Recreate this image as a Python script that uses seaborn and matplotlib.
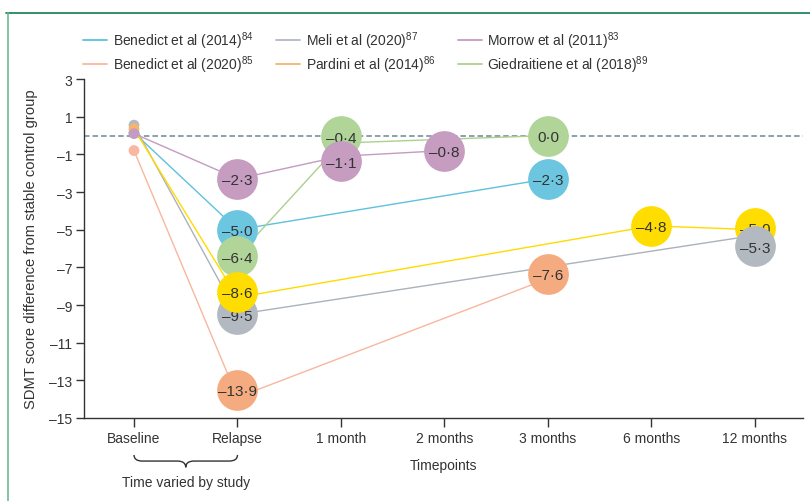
import matplotlib
matplotlib.use("Agg")
import matplotlib.pyplot as plt
import matplotlib.transforms as mtransforms
from matplotlib.lines import Line2D
from matplotlib.path import Path
from matplotlib.patches import PathPatch
import pandas as pd
import seaborn as sns

# ---- data -------------------------------------------------------------
timepoints = ["Baseline", "Relapse", "1 month", "2 months", "3 months",
              "6 months", "12 months"]

studies = ["Benedict et al (2014)", "Meli et al (2020)", "Morrow et al (2011)",
           "Benedict et al (2020)", "Pardini et al (2014)",
           "Giedraitiene et al (2018)"]
refs = ["84", "87", "83", "85", "86", "89"]

benedict2014_times = ["Baseline", "Relapse", "3 months"]
benedict2014_values = [0.15, -5.0, -2.3]
meli_times = ["Baseline", "Relapse", "12 months"]
meli_values = [0.55, -9.5, -5.3]
morrow_times = ["Baseline", "Relapse", "1 month", "2 months"]
morrow_values = [0.1, -2.3, -1.1, -0.8]
benedict2020_times = ["Baseline", "Relapse", "3 months"]
benedict2020_values = [-0.8, -13.9, -7.6]
pardini_times = ["Baseline", "Relapse", "6 months", "12 months"]
pardini_values = [0.35, -8.6, -4.8, -5.0]
giedraitiene_times = ["Relapse", "1 month", "3 months"]
giedraitiene_values = [-6.4, -0.4, 0.0]

series = {
    "Benedict et al (2014)": (benedict2014_times, benedict2014_values),
    "Meli et al (2020)": (meli_times, meli_values),
    "Morrow et al (2011)": (morrow_times, morrow_values),
    "Benedict et al (2020)": (benedict2020_times, benedict2020_values),
    "Pardini et al (2014)": (pardini_times, pardini_values),
    "Giedraitiene et al (2018)": (giedraitiene_times, giedraitiene_values),
}

# ---- colours ------------------------------------------------------------
line_colors = {
    "Benedict et al (2014)": "#5ec1dd",
    "Meli et al (2020)": "#aab2ba",
    "Morrow et al (2011)": "#c49bc1",
    "Benedict et al (2020)": "#f8b79e",
    "Pardini et al (2014)": "#ffdb00",
    "Giedraitiene et al (2018)": "#abd18e",
}
circle_colors = {
    "Benedict et al (2014)": "#6cc6df",
    "Meli et al (2020)": "#b3b9c0",
    "Morrow et al (2011)": "#c69cc0",
    "Benedict et al (2020)": "#f5ab80",
    "Pardini et al (2014)": "#ffdd00",
    "Giedraitiene et al (2018)": "#b1d599",
}
dot_colors = dict(line_colors)
dot_colors["Pardini et al (2014)"] = "#f8b46a"
dot_colors["Meli et al (2020)"] = "#b3b9c0"
legend_colors = dict(dot_colors)

# ---- long table -----------------------------------------------------------
rows = []
for study in studies:
    times, values = series[study]
    for t, v in zip(times, values):
        rows.append({"study": study, "time": t,
                     "pos": timepoints.index(t), "value": v})
df = pd.DataFrame(rows)

# ---- style ----------------------------------------------------------------
sns.set_style("ticks")
plt.rcParams["font.family"] = ["Liberation Sans", "DejaVu Sans"]
plt.rcParams["mathtext.fontset"] = "custom"
plt.rcParams["mathtext.rm"] = "Liberation Sans"
ink = "#333333"

fig = plt.figure(figsize=(8.1, 5.02), dpi=100)
ax = fig.add_axes([84 / 810, 1 - 419 / 502, 719 / 810, 339 / 502])

# zero reference
ax.axhline(0, color="#6b8794", lw=1.1, dashes=(3.6, 2.0), zorder=1)

# connecting lines
sns.lineplot(data=df, x="pos", y="value", hue="study", hue_order=studies,
             palette=line_colors, sort=False, estimator=None, lw=1.0,
             legend=False, ax=ax, zorder=2)

# baseline dots
base = df[df["time"] == "Baseline"].set_index("study").loc[
    ["Benedict et al (2014)", "Meli et al (2020)", "Pardini et al (2014)",
     "Morrow et al (2011)", "Benedict et al (2020)"]].reset_index()
sns.scatterplot(data=base, x="pos", y="value", hue="study",
                palette=dot_colors, s=60, linewidth=0, legend=False,
                ax=ax, zorder=3)

# labelled circles, stacked in this order
layer_order = [
    ("Benedict et al (2014)", "Relapse"), ("Benedict et al (2014)", "3 months"),
    ("Giedraitiene et al (2018)", "Relapse"), ("Giedraitiene et al (2018)", "1 month"),
    ("Giedraitiene et al (2018)", "3 months"),
    ("Meli et al (2020)", "Relapse"),
    ("Pardini et al (2014)", "Relapse"), ("Pardini et al (2014)", "6 months"),
    ("Pardini et al (2014)", "12 months"),
    ("Morrow et al (2011)", "Relapse"), ("Morrow et al (2011)", "1 month"),
    ("Morrow et al (2011)", "2 months"),
    ("Benedict et al (2020)", "Relapse"), ("Benedict et al (2020)", "3 months"),
    ("Meli et al (2020)", "12 months"),
]
# vertical dodge (points) to keep crowded circles readable
dodge = {
    ("Giedraitiene et al (2018)", "1 month"): 5.0,
    ("Morrow et al (2011)", "1 month"): -3.5,
    ("Pardini et al (2014)", "Relapse"): 4.0,
    ("Pardini et al (2014)", "12 months"): 1.2,
    ("Meli et al (2020)", "12 months"): -8.0,
    ("Benedict et al (2020)", "Relapse"): 5.5,
    ("Benedict et al (2020)", "3 months"): 3.5,
}

indexed = df.set_index(["study", "time"])


def fmt(v):
    return f"{v:.1f}".replace("-", "\u2013").replace(".", "\u00b7")


for i, key in enumerate(layer_order):
    sub = indexed.loc[[key]].reset_index()
    z = 4 + 2 * i
    dy = dodge.get(key, 0.0)
    sns.scatterplot(data=sub, x="pos", y="value", hue="study",
                    palette=circle_colors, s=860, linewidth=0, legend=False,
                    ax=ax, zorder=z)
    if dy:
        ax.collections[-1].set_offset_transform(
            ax.transData + mtransforms.ScaledTranslation(0, dy / 72, fig.dpi_scale_trans))
    r = sub.iloc[0]
    ax.annotate(fmt(r["value"]), (r["pos"], r["value"]), xytext=(0, dy),
                textcoords="offset points", ha="center",
                va="center_baseline", fontsize=11, color=ink, zorder=z + 1)

# ---- axes -----------------------------------------------------------------
ax.set_xlim(-0.483, 6.464)
ax.set_ylim(-15, 3)
ax.set_xticks(range(len(timepoints)))
ax.set_xticklabels(timepoints)
yt = list(range(3, -16, -2))
ax.set_yticks(yt)
ax.set_yticklabels([str(v).replace("-", "\u2013") for v in yt])
ax.tick_params(axis="x", length=6.5, width=1.0, color=ink, labelsize=10,
               labelcolor=ink, pad=3)
ax.tick_params(axis="y", length=5.8, width=1.0, color=ink, labelsize=10,
               labelcolor=ink, pad=2.5)
sns.despine(ax=ax)
for s in ("left", "bottom"):
    ax.spines[s].set_color(ink)
    ax.spines[s].set_linewidth(1.0)

ax.set_xlabel("Timepoints", fontsize=10, color=ink)
ax.xaxis.set_label_coords(0.5, -0.118)
ax.set_ylabel("SDMT score difference from stable control group",
              fontsize=10.6, color=ink)
ax.yaxis.set_label_coords(-0.064, 0.5)

# brace spanning Baseline to Relapse
tr = ax.get_xaxis_transform()
y_top, y_mid, y_tip = -0.109, -0.127, -0.1455
verts = [(0, y_top), (0, y_mid), (0.08, y_mid), (0.42, y_mid),
         (0.5, y_mid), (0.5, y_tip), (0.5, y_mid), (0.58, y_mid),
         (0.92, y_mid), (1.0, y_mid), (1.0, y_top)]
codes = [Path.MOVETO, Path.CURVE3, Path.CURVE3, Path.LINETO,
         Path.CURVE3, Path.CURVE3, Path.CURVE3, Path.CURVE3,
         Path.LINETO, Path.CURVE3, Path.CURVE3]
ax.add_patch(PathPatch(Path(verts, codes), transform=tr, fill=False,
                       edgecolor=ink, lw=1.0, clip_on=False))
ax.text(0.5, -0.189, "Time varied by study", transform=tr, ha="center",
        va="center", fontsize=10, color=ink)

# ---- legend ---------------------------------------------------------------
order = ["Benedict et al (2014)", "Benedict et al (2020)", "Meli et al (2020)",
         "Pardini et al (2014)", "Morrow et al (2011)", "Giedraitiene et al (2018)"]
handles = [Line2D([], [], color=legend_colors[s], lw=1.3) for s in order]
labels = [f"{s}$^{{\\mathregular{{{refs[studies.index(s)]}}}}}$" for s in order]
fig.legend(handles, labels, ncol=3, loc="upper left",
           bbox_to_anchor=(83 / 810, 1 - 30 / 502), frameon=False,
           fontsize=10, handlelength=1.75, handletextpad=0.4,
           columnspacing=1.6, labelspacing=0.2, borderpad=0,
           borderaxespad=0, labelcolor=ink)

# ---- frame ----------------------------------------------------------------
fig.add_artist(Line2D([6 / 810, 1], [1 - 14 / 502] * 2, transform=fig.transFigure,
                      color="#0f7d50", lw=1.2))
fig.add_artist(Line2D([7.5 / 810] * 2, [0, 1 - 14 / 502], transform=fig.transFigure,
                      color="#6fb893", lw=1.2))

fig.savefig("out.png", dpi=100)
